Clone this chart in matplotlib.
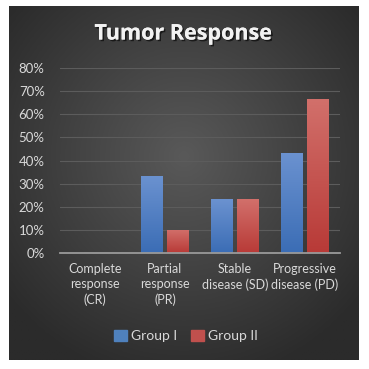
import numpy as np
import matplotlib
matplotlib.use("Agg")
import matplotlib.pyplot as plt
from matplotlib.colors import LinearSegmentedColormap
from matplotlib.patches import Rectangle
import matplotlib.patheffects as pe

categories = ["Complete\nresponse\n(CR)", "Partial\nresponse\n(PR)", "Stable\ndisease (SD)", "Progressive\ndisease (PD)"]
group1 = [0.0, 33.3, 23.3, 43.3]
group2 = [0.0, 10.0, 23.3, 66.7]
series_names = ["Group I", "Group II"]
yticks = [0, 10, 20, 30, 40, 50, 60, 70, 80]
ytick_labels = ["0%", "10%", "20%", "30%", "40%", "50%", "60%", "70%", "80%"]

W, H = 369, 369
fig = plt.figure(figsize=(W / 100, H / 100), dpi=100)
fig.patch.set_facecolor("white")

# dark panel with radial gradient
px0, py0, px1, py1 = 9, 6, 359, 360
bg = fig.add_axes([px0 / W, 1 - py1 / H, (px1 - px0) / W, (py1 - py0) / H])
yy, xx = np.mgrid[-1:1:300j, -1:1:300j]
r = np.sqrt((xx * 1.0) ** 2 + (yy * 1.0 + 0.15) ** 2)
r = np.clip(r / 1.3, 0, 1)
bgcmap = LinearSegmentedColormap.from_list("bg", ["#595959", "#2b2b2b"])
bg.imshow(r, cmap=bgcmap, aspect="auto", extent=[0, 1, 0, 1], vmin=0, vmax=1)
bg.set_axis_off()

FONT = "Lato"

# plot axes
ax_l, ax_r, ax_t, ax_b = 60, 340, 68, 253
ax = fig.add_axes([ax_l / W, 1 - ax_b / H, (ax_r - ax_l) / W, (ax_b - ax_t) / H])
ax.set_facecolor("none")

width = 0.31
offset = 0.186
blue_cmap = LinearSegmentedColormap.from_list("b", ["#3b6db5", "#6b92d0"])
red_cmap = LinearSegmentedColormap.from_list("r", ["#b83a37", "#d2706b"])
grad = np.linspace(0, 1, 100).reshape(-1, 1)

x = np.arange(len(categories)) + 0.5
bars1 = ax.bar(x - offset, group1, width, color="#4f81bd", zorder=3, label=series_names[0])
bars2 = ax.bar(x + offset, group2, width, color="#c0504d", zorder=3, label=series_names[1])
for bars, cm in ((bars1, blue_cmap), (bars2, red_cmap)):
    for b in bars:
        h = b.get_height()
        if h <= 0:
            continue
        bx, bw = b.get_x(), b.get_width()
        im = ax.imshow(grad, cmap=cm, aspect="auto", origin="lower",
                       extent=[bx, bx + bw, 0, h], zorder=4)
        im.set_clip_path(b)
ax.set_xlim(0, len(categories))
ax.set_ylim(0, 80)

ax.set_yticks(yticks)
ax.set_yticklabels(ytick_labels)
ax.yaxis.grid(True, color="#5c5c5c", linewidth=0.8, zorder=0)
ax.set_axisbelow(True)
ax.set_xticks(x)
ax.set_xticklabels(categories)
for s in ["top", "right", "left"]:
    ax.spines[s].set_visible(False)
ax.spines["bottom"].set_color("#9a9a9a")
ax.spines["bottom"].set_linewidth(1.3)
ax.spines["bottom"].set_zorder(5)
ax.tick_params(axis="both", length=0, colors="#d9d9d9")
ax.tick_params(axis="y", pad=11, labelsize=9.5)
ax.tick_params(axis="x", pad=7, labelsize=9)
for lab in ax.get_xticklabels() + ax.get_yticklabels():
    lab.set_family(FONT)
    lab.set_color("#d9d9d9")
    lab.set_linespacing(1.35)

# title
fig.text(183 / W, 1 - 34 / H, "Tumor Response", ha="center", va="center",
         color="#f2f2f2", fontsize=15.5, family="Open Sans", fontweight="bold",
         path_effects=[pe.withSimplePatchShadow(offset=(1.2, -1.2), shadow_rgbFace="#000000", alpha=0.6),
                       pe.Normal()])

# legend
handles = [Rectangle((0, 0), 1, 1, color="#4f81bd"), Rectangle((0, 0), 1, 1, color="#c0504d")]
leg = fig.legend(handles, series_names, loc="center", bbox_to_anchor=(186 / W, 1 - 336 / H),
                 ncol=2, frameon=False, handlelength=0.9, handleheight=0.9,
                 handletextpad=0.3, columnspacing=1.0, prop={"family": FONT, "size": 10})
for t in leg.get_texts():
    t.set_color("#d9d9d9")

fig.savefig("out.png", dpi=100, facecolor="white")
